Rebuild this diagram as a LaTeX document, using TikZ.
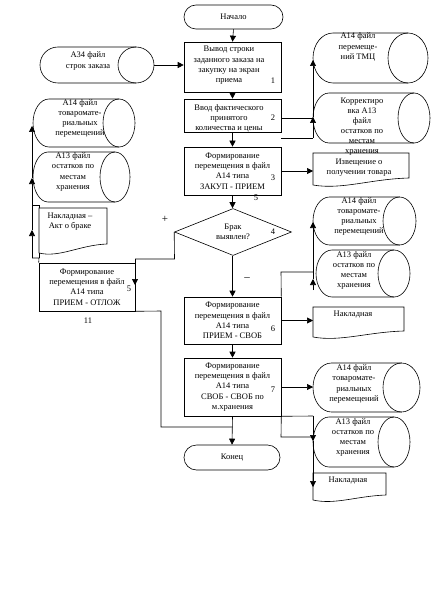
\documentclass[tikz,border=0pt]{standalone}
\usepackage{fontspec}
\setmainfont{Liberation Serif}
\usetikzlibrary{shapes.geometric,arrows.meta}
\tikzset{
 ln/.style={line width=0.6pt},
 arr/.style={ln,-{Triangle[length=6pt,width=6pt]}},
 txt/.style={font=\fontsize{8.5}{10.3}\selectfont,align=center,inner sep=0pt},
 proc/.style={draw,ln,txt,minimum width=97pt,inner sep=0pt},
 term/.style={draw,ln,txt,rounded corners=12pt},
 dec/.style={draw,ln,diamond,txt,aspect=2.5,minimum width=117pt,minimum height=47pt,inner sep=0pt},
}
\newcommand\drum[6]{%
 \pgfmathsetmacro\cylL{#2+#6}%
 \pgfmathsetmacro\cylR{#4-#6}%
 \pgfmathsetmacro\cylM{(#3+#5)/2}%
 \pgfmathsetmacro\cylH{(#5-#3)/2}%
 \draw[ln] (\cylR,#3) -- (\cylL,#3) arc[start angle=90,end angle=270,x radius=#6pt,y radius=\cylH pt] -- (\cylR,#5);
 \draw[ln] (\cylR,\cylM) ellipse[x radius=#6pt,y radius=\cylH pt];
 \coordinate (#1-w) at (#2,\cylM);
 \coordinate (#1-e) at (#4,\cylM);
}
\newcommand\docsh[6]{%
 \pgfmathsetmacro\dcW{#4-#2}%
 \draw[ln] (#2,#5) -- (#2,#3) -- (#4,#3) -- (#4,#6) .. controls ({#2+0.6*\dcW},{#6+1}) and ({#2+0.3*\dcW},{#5+5}) .. (#2,#5);
 \coordinate (#1-w) at (#2,{(#3+#5)/2});
}
\begin{document}
\begin{tikzpicture}[x=1pt,y=-1pt]
\useasboundingbox (0,0) rectangle (432,604);
\fill[white] (0,0) rectangle (432,604);

% main column
\node[term,minimum width=99pt,minimum height=24pt] (start) at (233.5,17) {Начало};
\node[proc,minimum height=50pt] (b1) at (232.5,67) {};
\node[txt] (b1t) at (229,65.5) {Вывод строки\\заданного заказа на\\закупку на экран\\приема};
\node[proc,minimum height=33pt] (b2) at (232.5,115.5) {};
\node[txt] (b2t) at (229,118.5) {Ввод фактического\\принятого\\количества и цены};
\node[proc,minimum height=48pt] (b3) at (232.5,171) {Формирование\\перемещения в файл\\А14 типа\\ЗАКУП - ПРИЕМ};
\node[dec] (d) at (233,232) {Брак\\выявлен?};
\node[proc,minimum height=47pt] (b6) at (232.5,320.5) {Формирование\\перемещения в файл\\А14 типа\\ПРИЕМ - СВОБ};
\node[proc,minimum height=58pt] (b7) at (232.5,387) {Формирование\\перемещения в файл\\А14 типа\\СВОБ - СВОБ по\\м.хранения};
\node[term,minimum width=96pt,minimum height=25pt,rounded corners=12.5pt] (fin) at (232,457.5) {Конец};
\node[proc,minimum width=96pt,minimum height=48pt] (b11) at (87,287) {Формирование\\перемещения в файл\\А14 типа\\ПРИЕМ - ОТЛОЖ};

% numbers and signs
\node[txt] (n1) at (273,81) {1};
\node[txt] (n2) at (273,118) {2};
\node[txt] (n3) at (273,178) {3};
\node[txt] (n5a) at (256,198) {5};
\node[txt] (n4) at (273,232) {4};
\node[txt] (n6) at (273,329) {6};
\node[txt] (n7) at (273,390) {7};
\node[txt] (n5b) at (129,289) {5};
\node[txt] (n11) at (88,321) {11};
\node[txt,font=\fontsize{11}{12}\selectfont] (plus) at (165,219) {+};
\node[txt,font=\fontsize{11}{12}\selectfont] (minus) at (247,279) {--};

% files (drums)
\drum{a34}{40}{47}{154}{83}{18}
\node[txt] (a34t) at (88,61) {А34 файл\\строк заказа};
\drum{a14l}{33}{99}{135}{147}{16}
\node[txt] (a14lt) at (80,118.5) {А14 файл\\товаромате-\\риальных\\перемещений};
\drum{a13l}{33}{152}{130}{202}{15}
\node[txt] (a13lt) at (73,172) {А13 файл\\остатков по\\местам\\хранения};
\drum{a14r1}{313}{33}{428}{83}{20}
\node[txt] (a14r1t) at (358,47) {А14 файл\\перемеще-\\ний ТМЦ};
\drum{korr}{313}{93}{430}{143}{16}
\node[txt,font=\fontsize{8.5}{10}\selectfont] (korrt) at (362,127) {Корректиро\\вка А13\\файл\\остатков по\\местам\\хранения};
\drum{a14r2}{313}{197}{416}{245}{16.5}
\node[txt] (a14r2t) at (359,216.5) {А14 файл\\товаромате-\\риальных\\перемещений};
\drum{a13r2}{316}{250}{410}{297}{16}
\node[txt] (a13r2t) at (354,270.5) {А13 файл\\остатков по\\местам\\хранения};
\drum{a14r3}{313}{363}{420}{412}{18.5}
\node[txt] (a14r3t) at (354,384) {А14 файл\\товаромате-\\риальных\\перемещений};
\drum{a13r3}{313}{417}{410}{467}{16}
\node[txt] (a13r3t) at (353,437.5) {А13 файл\\остатков по\\местам\\хранения};

% documents
\docsh{nk1}{39}{208}{107}{253}{244}
\node[txt] (nk1t) at (70,221.5) {Накладная --\\Акт о браке};
\docsh{izv}{313}{153}{409}{185}{178}
\node[txt] (izvt) at (359,167.5) {Извещение о\\получении товара};
\docsh{nk2}{313}{307}{404}{337}{331}
\node[txt] (nk2t) at (353,315) {Накладная};
\docsh{nk3}{313}{473}{386}{500}{495}
\node[txt] (nk3t) at (348,481) {Накладная};

% main flow
\draw[arr] (start.south) -- (b1.north);
\draw[arr] (b1.south) -- (b2.north);
\draw[arr] (b2.south) -- (b3.north);
\draw[arr] (b3.south) -- (d.north -| b3.south);
\draw[arr] (d.south -| b6.north) -- (b6.north);
\draw[arr] (b6.south) -- (b7.north);
\draw[arr] (b7.south) -- (fin.north);
\draw[arr] (a34-e) -- (b1.west |- a34-e);
\draw[arr] (b3.east) -- (b3.east -| izv-w);
\draw[arr] (b6.east) -- (b6.east -| nk2-w);
\draw[arr] (b7.east) -- (b7.east -| a14r3-w);

% top right group
\coordinate (t1) at (313,118);
\coordinate (t2) at (313,138);
\coordinate (t3) at (281,138);
\draw[ln] (b2.east |- t1) -- (t1);
\draw[ln] (t3) -- (t2);
\draw[arr] (t2) -- (313,117);
\draw[arr] (313,117) -- (313,60);

% middle right group
\coordinate (m1) at (281,272);
\coordinate (m2) at (313,272);
\draw[ln] (b6.north east) -- (m1) -- (m2);
\draw[arr] (m2) -- (313,222);
\draw[arr] (313,290) -- (313,279);
\draw[ln] (313,279) -- (m2);

% bottom right group
\coordinate (r1) at (313,416);
\coordinate (r2) at (281,437);
\coordinate (r3) at (313,437);
\draw[ln] (b7.south east) -- (r1);
\draw[ln] (b7.south east) -- (r2) -- (r3);
\draw[arr] (r1) -- (313,441);
\draw[arr] (313,441) -- (313,487);

% reject branch
\coordinate (k1) at (174.5,259);
\coordinate (k2) at (135,259);
\draw[ln] (d.west) -- (k1) -- (k2);
\draw[arr] (k2) -- (135,285);
\coordinate (k3) at (161,311);
\coordinate (k4) at (161,427);
\coordinate (k5) at (232.5,427);
\draw[ln] (b11.south east) -- (k3) -- (k4) -- (k5);

% left group
\coordinate (L1) at (32,258);
\coordinate (L2) at (39,258);
\draw[ln] (b11.north west) -- (L2) -- (L1);
\draw[arr] (L1) -- (32,230);
\draw[arr] (32,230) -- (32,178);
\draw[arr] (32,178) -- (32,126);
\coordinate (L3) at (32,205);
\coordinate (L4) at (39,205);
\draw[ln] (L3) -- (L4) -- (39,208);
\draw[ln] (39,253) -- (L2);
\end{tikzpicture}
\end{document}
